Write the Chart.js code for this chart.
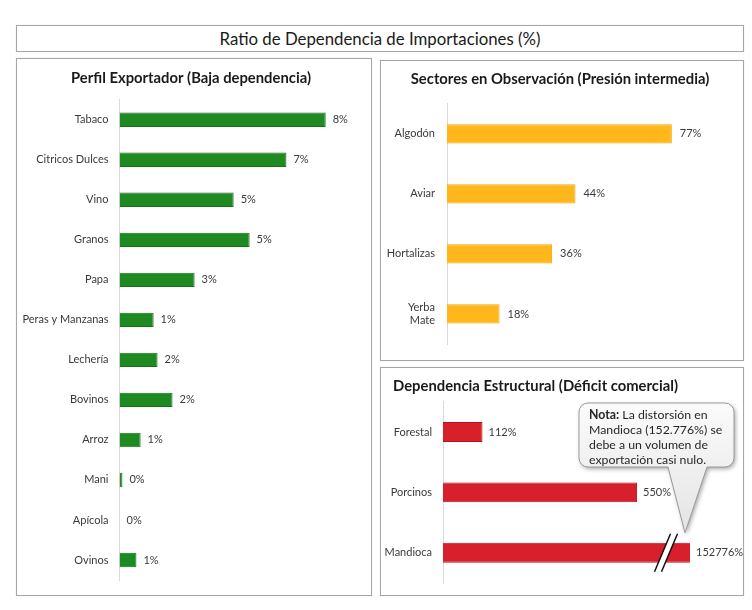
<!DOCTYPE html>
<html lang="es">
<head>
<meta charset="utf-8">
<title>Ratio de Dependencia de Importaciones</title>
<script src="https://cdn.jsdelivr.net/npm/chart.js@4.4.1/dist/chart.umd.min.js"></script>
<style>
  html, body { margin: 0; padding: 0; background: #fff; }
  #page { position: relative; width: 752px; height: 610px; background: #fff; font-family: Lato, "Open Sans", sans-serif; }
  .box { position: absolute; border: 1px solid #a6a6a6; box-sizing: border-box; background: #fff; box-shadow: 0 0 1px rgba(0,0,0,0.15); }
  .box canvas { display: block; }
  #mainTitle { left: 16px; top: 25px; width: 728px; height: 27px; text-align: center; line-height: 25px; font-size: 16.8px; color: #1a1a1a; }
</style>
</head>
<body>
<div id="page">
  <div class="box" id="mainTitle">Ratio de Dependencia de Importaciones (%)</div>
  <div class="box" style="left:16px; top:58px; width:356px; height:538px;"><canvas id="perfil" width="354" height="536"></canvas></div>
  <div class="box" style="left:380px; top:60px; width:364px; height:301px;"><canvas id="sectores" width="362" height="299"></canvas></div>
  <div class="box" style="left:380px; top:367px; width:364px; height:229px;"><canvas id="estructural" width="362" height="227"></canvas></div>
</div>

<script>
'use strict';

// Perfil Exportador (baja dependencia), valores en %
var perfilLabels = ['Tabaco', 'Citricos Dulces', 'Vino', 'Granos', 'Papa', 'Peras y Manzanas',
                    'Lechería', 'Bovinos', 'Arroz', 'Mani', 'Apícola', 'Ovinos'];
var perfilValues = [8.4, 6.8, 4.65, 5.3, 3.06, 1.39, 1.55, 2.16, 0.86, 0.12, 0, 0.69];

// Sectores en Observación (presión intermedia)
var sectoresLabels = ['Algodón', 'Aviar', 'Hortalizas', ['Yerba', 'Mate']];
var sectoresValues = [77, 44, 36, 18];

// Dependencia Estructural (déficit comercial)
var estructuralLabels = ['Forestal', 'Porcinos', 'Mandioca'];
var estructuralValues = [112, 550, 152776];

var FONT = 'Lato, "Open Sans", sans-serif';
var TEXT = '#3a3a3a';

// value labels at the end of each bar
var barLabels = {
    id: 'barLabels',
    afterDatasetsDraw: function(chart, args, opts) {
        var ctx = chart.ctx;
        var meta = chart.getDatasetMeta(0);
        var data = chart.data.datasets[0].data;
        ctx.save();
        ctx.font = opts.size + 'px ' + FONT;
        ctx.fillStyle = TEXT;
        ctx.textAlign = 'left';
        ctx.textBaseline = 'middle';
        meta.data.forEach(function(bar, i) {
            var x = Math.min(bar.x, chart.chartArea.right);
            ctx.fillText(opts.format(data[i]), x + opts.gap, bar.y);
        });
        ctx.restore();
    }
};

// axis break on Mandioca and the note callout
var notaCallout = {
    id: 'notaCallout',
    afterDraw: function(chart) {
        var ctx = chart.ctx;
        var bar = chart.getDatasetMeta(0).data[2];
        var end = Math.min(bar.x, chart.chartArea.right);
        var bx = end - 24, by = bar.y;

        ctx.save();
        // break marks
        ctx.lineCap = 'butt';
        ctx.strokeStyle = '#fff';
        ctx.lineWidth = 6;
        ctx.beginPath();
        ctx.moveTo(bx + 8, by - 19); ctx.lineTo(bx - 8, by + 19);
        ctx.stroke();
        ctx.strokeStyle = '#111';
        ctx.lineWidth = 1.5;
        [-3.5, 3.5].forEach(function(d) {
            ctx.beginPath();
            ctx.moveTo(bx + 8 + d, by - 19); ctx.lineTo(bx - 8 + d, by + 19);
            ctx.stroke();
        });

        // callout box
        var x0 = 198, y0 = 35, w = 155, h = 64, r = 9;
        var tipX = end - 5, tipY = bar.y - 20;
        ctx.beginPath();
        ctx.moveTo(x0 + r, y0);
        ctx.lineTo(x0 + w - r, y0);
        ctx.arcTo(x0 + w, y0, x0 + w, y0 + r, r);
        ctx.lineTo(x0 + w, y0 + h - r);
        ctx.arcTo(x0 + w, y0 + h, x0 + w - r, y0 + h, r);
        ctx.lineTo(x0 + 128, y0 + h);
        ctx.lineTo(tipX, tipY);
        ctx.lineTo(x0 + 89, y0 + h);
        ctx.lineTo(x0 + r, y0 + h);
        ctx.arcTo(x0, y0 + h, x0, y0 + h - r, r);
        ctx.lineTo(x0, y0 + r);
        ctx.arcTo(x0, y0, x0 + r, y0, r);
        ctx.closePath();
        var grad = ctx.createLinearGradient(0, y0, 0, tipY);
        grad.addColorStop(0, '#fbfbfb');
        grad.addColorStop(1, '#e4e4e4');
        ctx.shadowColor = 'rgba(0,0,0,0.35)';
        ctx.shadowBlur = 4;
        ctx.shadowOffsetX = 1.5;
        ctx.shadowOffsetY = 2;
        ctx.fillStyle = grad;
        ctx.fill();
        ctx.shadowColor = 'transparent';
        ctx.strokeStyle = '#9a9a9a';
        ctx.lineWidth = 1;
        ctx.stroke();

        // note text
        ctx.fillStyle = '#262626';
        ctx.textBaseline = 'middle';
        ctx.textAlign = 'left';
        ctx.font = 'bold 12.3px ' + FONT;
        var tx = x0 + 10;
        ctx.fillText('Nota:', tx, y0 + 12);
        var nw = ctx.measureText('Nota:').width;
        ctx.font = '12.3px ' + FONT;
        ctx.fillText(' La distorsión en', tx + nw, y0 + 12);
        ctx.fillText('Mandioca (152.776%) se', tx, y0 + 27);
        ctx.fillText('debe a un volumen de', tx, y0 + 42);
        ctx.fillText('exportación casi nulo.', tx, y0 + 57);
        ctx.restore();
    }
};

function makeChart(id, cfg) {
    var ctx = document.getElementById(id).getContext('2d');
    return new Chart(ctx, {
        type: 'bar',
        data: {
            labels: cfg.labels,
            datasets: [{
                data: cfg.values,
                backgroundColor: cfg.color,
                borderColor: cfg.border,
                borderWidth: 1,
                categoryPercentage: 1,
                barPercentage: cfg.barPct,
                clip: 0
            }]
        },
        options: {
            indexAxis: 'y',
            responsive: false,
            animation: false,
            devicePixelRatio: 1,
            layout: { padding: { left: 0, right: cfg.padRight, top: 0, bottom: cfg.padBottom } },
            plugins: {
                legend: { display: false },
                tooltip: { enabled: false },
                title: {
                    display: true,
                    text: cfg.title,
                    color: '#1a1a1a',
                    font: { family: FONT, size: 14.8, weight: 'bold' },
                    padding: { top: cfg.titleTop, bottom: cfg.titleBottom }
                },
                barLabels: { size: 11, gap: cfg.gap, format: cfg.format }
            },
            scales: {
                x: { display: false, min: 0, max: cfg.max },
                y: {
                    grid: { display: false, drawTicks: false },
                    border: { display: true, color: '#d9d9d9', width: 1 },
                    ticks: { color: TEXT, padding: cfg.tickPad, font: { family: FONT, size: 11 } },
                    afterFit: function(scale) {
                        scale.width = cfg.axisWidth;
                        // keep label padding from pushing the plot area
                        scale.paddingTop = 0;
                        scale.paddingBottom = 0;
                    }
                }
            }
        },
        plugins: cfg.plugins
    });
}

makeChart('perfil', {
    labels: perfilLabels, values: perfilValues,
    title: 'Perfil Exportador (Baja dependencia)',
    color: '#1f8a22', border: '#167019', barPct: 0.36,
    max: 10, axisWidth: 102.5, padRight: 6, padBottom: 15,
    titleTop: 10.5, titleBottom: 12.5, tickPad: 11, gap: 7,
    format: function(v) { return Math.round(v) + '%'; },
    plugins: [barLabels]
});

makeChart('sectores', {
    labels: sectoresLabels, values: sectoresValues,
    title: 'Sectores en Observación (Presión intermedia)',
    color: '#ffb71b', border: '#f2a900', barPct: 0.32,
    max: 100, axisWidth: 66, padRight: 4, padBottom: 16,
    titleTop: 9, titleBottom: 16, tickPad: 12, gap: 8,
    format: function(v) { return v + '%'; },
    plugins: [barLabels]
});

makeChart('estructural', {
    labels: estructuralLabels, values: estructuralValues,
    title: 'Dependencia Estructural (Déficit comercial)',
    color: '#d8202c', border: '#b3141f', barPct: 0.33,
    max: 700, axisWidth: 62, padRight: 53, padBottom: 12,
    titleTop: 9, titleBottom: 7, tickPad: 11, gap: 6,
    format: function(v) { return v + '%'; },
    plugins: [barLabels, notaCallout]
});
</script>
</body>
</html>
